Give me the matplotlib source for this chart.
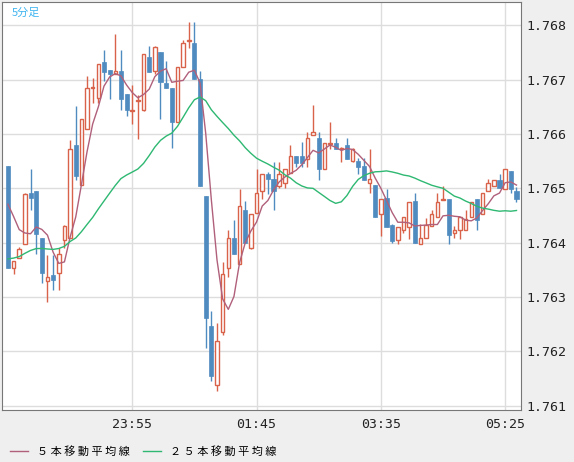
import matplotlib
matplotlib.use("Agg")
import matplotlib.pyplot as plt
import numpy as np
from matplotlib.lines import Line2D

# OHLC (5-minute bars)
opens = [1.76542,1.76354,1.76372,1.76398,1.76492,1.76496,1.76409,1.76330,1.76340,1.76345,
         1.76405,1.76409,1.76580,1.76507,1.76609,1.76685,1.76667,1.76733,1.76718,1.76711,
         1.76716,1.76673,1.76642,1.76660,1.76645,1.76742,1.76716,1.76751,1.76694,1.76685,
         1.76623,1.76724,1.76771,1.76767,1.76702,1.76485,1.76247,1.76138,1.76236,1.76354,
         1.76409,1.76361,1.76461,1.76391,1.76454,1.76496,1.76527,1.76518,1.76505,1.76509,
         1.76529,1.76560,1.76560,1.76554,1.76598,1.76593,1.76536,1.76582,1.76583,1.76572,
         1.76580,1.76551,1.76551,1.76542,1.76509,1.76507,1.76452,1.76483,1.76432,1.76405,
         1.76423,1.76429,1.76476,1.76398,1.76409,1.76431,1.76447,1.76478,1.76480,1.76418,
         1.76423,1.76423,1.76447,1.76480,1.76452,1.76496,1.76505,1.76516,1.76498,1.76532,
         1.76496]
closes = [1.76354,1.76367,1.76389,1.76489,1.76483,1.76416,1.76345,1.76336,1.76332,1.76380,
          1.76430,1.76572,1.76523,1.76627,1.76685,1.76686,1.76729,1.76714,1.76711,1.76716,
          1.76665,1.76645,1.76645,1.76662,1.76747,1.76714,1.76760,1.76696,1.76684,1.76622,
          1.76724,1.76767,1.76772,1.76702,1.76505,1.76261,1.76154,1.76219,1.76343,1.76409,
          1.76380,1.76467,1.76400,1.76452,1.76491,1.76527,1.76518,1.76496,1.76527,1.76536,
          1.76560,1.76547,1.76547,1.76593,1.76603,1.76536,1.76583,1.76584,1.76572,1.76574,
          1.76554,1.76573,1.76540,1.76516,1.76518,1.76447,1.76480,1.76429,1.76403,1.76429,
          1.76447,1.76474,1.76400,1.76409,1.76432,1.76452,1.76474,1.76480,1.76414,1.76423,
          1.76447,1.76443,1.76474,1.76441,1.76491,1.76509,1.76516,1.76500,1.76536,1.76498,
          1.76480]
highs = [1.76542,1.76367,1.76392,1.76492,1.76536,1.76496,1.76409,1.76378,1.76378,1.76391,
         1.76432,1.76589,1.76651,1.76627,1.76707,1.76704,1.76729,1.76755,1.76718,1.76785,
         1.76755,1.76673,1.76691,1.76671,1.76747,1.76762,1.76762,1.76751,1.76735,1.76685,
         1.76724,1.76773,1.76807,1.76807,1.76716,1.76485,1.76274,1.76252,1.76365,1.76423,
         1.76441,1.76498,1.76476,1.76452,1.76536,1.76527,1.76530,1.76549,1.76549,1.76536,
         1.76580,1.76560,1.76585,1.76603,1.76654,1.76603,1.76583,1.76623,1.76593,1.76576,
         1.76593,1.76575,1.76555,1.76555,1.76573,1.76507,1.76480,1.76498,1.76435,1.76429,
         1.76447,1.76474,1.76492,1.76434,1.76445,1.76461,1.76492,1.76505,1.76480,1.76431,
         1.76447,1.76461,1.76474,1.76480,1.76491,1.76518,1.76516,1.76527,1.76536,1.76532,
         1.76502]
lows = [1.76354,1.76343,1.76372,1.76398,1.76461,1.76380,1.76325,1.76290,1.76312,1.76312,
        1.76391,1.76409,1.76516,1.76507,1.76609,1.76658,1.76658,1.76698,1.76665,1.76711,
        1.76645,1.76634,1.76618,1.76591,1.76642,1.76714,1.76711,1.76627,1.76684,1.76574,
        1.76623,1.76724,1.76758,1.76702,1.76505,1.76207,1.76145,1.76127,1.76230,1.76336,
        1.76380,1.76361,1.76400,1.76388,1.76454,1.76480,1.76489,1.76461,1.76500,1.76500,
        1.76529,1.76540,1.76540,1.76540,1.76598,1.76516,1.76536,1.76572,1.76572,1.76549,
        1.76554,1.76549,1.76527,1.76516,1.76491,1.76447,1.76412,1.76429,1.76400,1.76398,
        1.76418,1.76407,1.76400,1.76398,1.76409,1.76431,1.76447,1.76478,1.76398,1.76409,
        1.76407,1.76423,1.76447,1.76423,1.76452,1.76496,1.76505,1.76500,1.76498,1.76491,
        1.76474]
# closes before the visible window (used only for the moving averages)
prior_closes = [1.7633,1.7632,1.7634,1.7635,1.7633,1.7634,1.7636,1.7635,1.7634,1.7633,
                1.7635,1.7636,1.7634,1.7635,1.7636,1.7634,1.7635,1.7635,1.7636,1.7635,
                1.7648,1.7651,1.7652,1.7649]

xtick_pos = [22, 44, 66, 88]
xtick_labels = ["23:55", "01:45", "03:35", "05:25"]
yticks = [1.761, 1.762, 1.763, 1.764, 1.765, 1.766, 1.767, 1.768]

W, H = 574, 462
fig = plt.figure(figsize=(W/100, H/100), dpi=100, facecolor="#efefef")
ax = fig.add_axes([2/W, 52/H, 519/W, 408/H])
ax.set_facecolor("white")

o = np.array(opens); c = np.array(closes); h = np.array(highs); l = np.array(lows)
x = np.arange(len(o))
up = c >= o
upc, dnc = "#d9634a", "#4f8bbf"
ax.vlines(x[up], l[up], h[up], color=upc, lw=1, zorder=3)
ax.vlines(x[~up], l[~up], h[~up], color=dnc, lw=1, zorder=3)
ax.bar(x[up], np.maximum(c[up]-o[up], 0.00002), bottom=o[up], width=0.62,
       facecolor="white", edgecolor=upc, lw=1, zorder=4)
ax.bar(x[~up], o[~up]-c[~up], bottom=c[~up], width=0.72,
       facecolor=dnc, edgecolor=dnc, lw=0.5, zorder=4)

allc = np.concatenate([prior_closes, closes])
n0 = len(prior_closes)
ma5 = np.convolve(allc, np.ones(5)/5, mode="valid")[n0-4:]
ma25 = np.convolve(allc, np.ones(25)/25, mode="valid")[n0-24:]
ax.plot(x, ma5, color="#b0607a", lw=1, zorder=5)
ax.plot(x, ma25, color="#2eb872", lw=1, zorder=5)

ax.set_xlim(-1.05, 90.8)
ax.set_ylim(1.76092, 1.76843)
ax.set_xticks(xtick_pos)
ax.set_xticklabels(xtick_labels)
ax.set_yticks(yticks)
ax.set_yticklabels([f"{v:.3f}" for v in yticks])
ax.yaxis.tick_right()
ax.tick_params(length=0, labelsize=9.5, colors="#222222", pad=4)
ax.tick_params(axis="x", pad=6)
for t in ax.get_xticklabels() + ax.get_yticklabels():
    t.set_family("DejaVu Sans Mono")
ax.grid(True, color="#dddddd", lw=1)
ax.set_axisbelow(True)
for s in ax.spines.values():
    s.set_color("#777777")

ax.text(0.018, 0.985, "5分足", transform=ax.transAxes, ha="left", va="top",
        color="#3fb4f0", fontsize=8, family=["Noto Sans CJK JP", "DejaVu Sans"])

handles = [Line2D([], [], color="#b0607a", lw=1), Line2D([], [], color="#2eb872", lw=1)]
fig.legend(handles, ["５ 本 移 動 平 均 線", "２ ５ 本 移 動 平 均 線"], loc="lower left",
           bbox_to_anchor=(0.0, -0.01), ncol=2, frameon=False, handlelength=1.6,
           columnspacing=1.2, handletextpad=0.8,
           prop={"family": ["Noto Sans CJK JP", "DejaVu Sans"], "size": 8})

fig.savefig("out.png", dpi=100, facecolor=fig.get_facecolor())
